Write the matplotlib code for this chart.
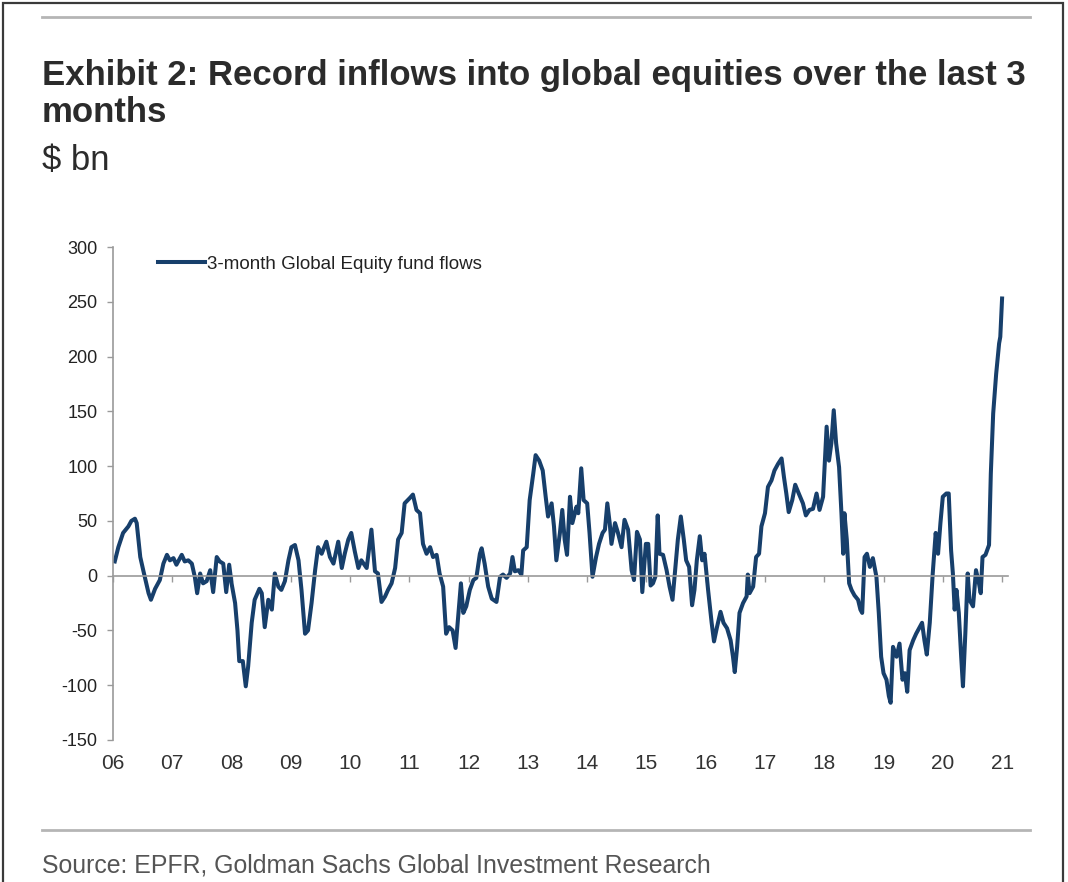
"""
Exhibit 2: 3-month global equity fund flows ($ bn), 2006-2021.
Values read off the EPFR / GS chart, roughly 3 weeks apart.
"""

import matplotlib
matplotlib.use("Agg")
import matplotlib.pyplot as plt
from matplotlib.lines import Line2D
from matplotlib.patches import Rectangle

NARROW = ["Liberation Sans Narrow", "Liberation Sans", "DejaVu Sans"]
REGULAR = ["Liberation Sans", "DejaVu Sans"]

# decimal year of each reading
t_2006_09 = [2006.03, 2006.09, 2006.17, 2006.26, 2006.31, 2006.37, 2006.40, 2006.46, 2006.51, 2006.60,
             2006.64, 2006.71, 2006.79, 2006.85, 2006.91, 2006.96, 2007.02, 2007.07, 2007.16, 2007.21,
             2007.27, 2007.33, 2007.38, 2007.42, 2007.47, 2007.52, 2007.58, 2007.64, 2007.69, 2007.75,
             2007.80, 2007.86, 2007.91, 2007.96, 2008.00, 2008.06, 2008.10, 2008.13, 2008.19, 2008.24,
             2008.28, 2008.34, 2008.39, 2008.47, 2008.51, 2008.56, 2008.62, 2008.68, 2008.73, 2008.79,
             2008.84, 2008.90, 2008.96, 2009.01, 2009.07, 2009.13, 2009.18, 2009.24, 2009.29, 2009.35,
             2009.41, 2009.46, 2009.52, 2009.60, 2009.66]
v_2006_09 = [13, 26, 39, 45, 50, 52, 48, 17, 5, -16,
             -22, -12, -4, 11, 19, 14, 16, 10, 19, 13,
             14, 11, -1, -16, 2, -7, -5, 5, -15, 17,
             13, 11, -15, 10, -7, -25, -50, -78, -78, -101,
             -83, -43, -22, -12, -16, -47, -22, -31, 2, -10,
             -13, -5, 14, 26, 28, 14, -13, -53, -50, -25,
             5, 26, 20, 31, 17]

t_2009_13 = [2009.72, 2009.80, 2009.86, 2009.91, 2009.97, 2010.02, 2010.08, 2010.14, 2010.19, 2010.28,
             2010.36, 2010.42, 2010.47, 2010.53, 2010.59, 2010.64, 2010.70, 2010.76, 2010.81, 2010.87,
             2010.92, 2011.01, 2011.06, 2011.12, 2011.18, 2011.23, 2011.29, 2011.35, 2011.40, 2011.46,
             2011.51, 2011.57, 2011.62, 2011.67, 2011.73, 2011.78, 2011.82, 2011.87, 2011.91, 2011.96,
             2012.02, 2012.08, 2012.13, 2012.19, 2012.22, 2012.27, 2012.33, 2012.39, 2012.47, 2012.53,
             2012.58, 2012.64, 2012.70, 2012.74, 2012.78, 2012.84, 2012.89, 2012.92, 2012.98, 2013.03,
             2013.09, 2013.13, 2013.19, 2013.25, 2013.30, 2013.34, 2013.40, 2013.44, 2013.48, 2013.54,
             2013.58, 2013.62, 2013.66, 2013.71, 2013.75, 2013.82]
v_2009_13 = [11, 31, 7, 20, 33, 39, 22, 7, 14, 7,
             42, 4, 2, -24, -19, -13, -7, 7, 33, 39,
             66, 71, 74, 60, 57, 29, 20, 26, 17, 19,
             2, -10, -53, -47, -50, -66, -40, -7, -34, -28,
             -13, -4, -2, 20, 25, 11, -10, -21, -24, -1,
             1, -2, 2, 17, 4, 5, 1, 23, 26, 69,
             93, 110, 105, 96, 72, 54, 66, 45, 14, 39,
             60, 33, 19, 72, 48, 63]

t_2013_17 = [2013.85, 2013.90, 2013.94, 2014.00, 2014.04, 2014.09, 2014.15, 2014.20, 2014.26, 2014.30,
             2014.34, 2014.38, 2014.41, 2014.47, 2014.52, 2014.58, 2014.63, 2014.69, 2014.75, 2014.79,
             2014.84, 2014.89, 2014.93, 2014.99, 2015.03, 2015.07, 2015.11, 2015.15, 2015.19, 2015.22,
             2015.28, 2015.34, 2015.39, 2015.44, 2015.48, 2015.53, 2015.58, 2015.63, 2015.67, 2015.72,
             2015.77, 2015.81, 2015.85, 2015.90, 2015.94, 2015.98, 2016.04, 2016.10, 2016.14, 2016.19,
             2016.25, 2016.30, 2016.36, 2016.42, 2016.46, 2016.49, 2016.53, 2016.57, 2016.63, 2016.69,
             2016.71, 2016.74, 2016.80, 2016.85, 2016.90, 2016.94, 2017.00, 2017.05, 2017.11, 2017.16,
             2017.22, 2017.28, 2017.32, 2017.36, 2017.40, 2017.46, 2017.51, 2017.57, 2017.64, 2017.69]
v_2013_17 = [57, 98, 69, 66, 39, -1, 17, 29, 39, 42,
             66, 48, 29, 48, 39, 26, 51, 42, 5, -4,
             40, 33, -15, 29, 29, -9, -7, -1, 55, 20,
             19, 5, -10, -22, 2, 33, 54, 33, 14, 8,
             -27, -13, 14, 36, 14, 20, -13, -43, -60, -47,
             -33, -43, -48, -59, -74, -88, -65, -34, -25, -19,
             1, -16, -10, 17, 20, 45, 57, 81, 87, 96,
             102, 107, 90, 75, 58, 69, 83, 75, 66, 55]

t_2017_21 = [2017.75, 2017.81, 2017.87, 2017.92, 2017.98, 2018.04, 2018.08, 2018.12, 2018.16, 2018.20,
             2018.25, 2018.29, 2018.32, 2018.34, 2018.38, 2018.42, 2018.46, 2018.51, 2018.57, 2018.61,
             2018.64, 2018.68, 2018.72, 2018.77, 2018.82, 2018.88, 2018.92, 2018.96, 2019.00, 2019.05,
             2019.09, 2019.12, 2019.16, 2019.22, 2019.27, 2019.32, 2019.36, 2019.40, 2019.44, 2019.50,
             2019.55, 2019.61, 2019.65, 2019.69, 2019.73, 2019.78, 2019.83, 2019.88, 2019.92, 2019.96,
             2020.00, 2020.06, 2020.10, 2020.14, 2020.17, 2020.20, 2020.23, 2020.27, 2020.31, 2020.34,
             2020.38, 2020.42, 2020.45, 2020.51, 2020.56, 2020.61, 2020.64, 2020.67, 2020.72, 2020.78,
             2020.81, 2020.85, 2020.90, 2020.95, 2020.97, 2021.00]
v_2017_21 = [60, 61, 75, 60, 72, 136, 105, 121, 151, 121,
             99, 57, 20, 57, 33, -7, -13, -18, -22, -31,
             -34, 17, 20, 8, 16, -1, -34, -74, -89, -95,
             -110, -116, -65, -74, -62, -95, -89, -106, -68, -59,
             -53, -47, -43, -59, -72, -43, 2, 39, 20, 48,
             72, 75, 75, 23, 2, -31, -13, -34, -74, -101,
             -53, 2, -22, -28, 5, -7, -16, 17, 19, 28,
             93, 148, 184, 212, 218, 253]

years = list(range(2006, 2022))
year_labels = [f"{y % 100:02d}" for y in years]
y_ticks = [-150, -100, -50, 0, 50, 100, 150, 200, 250, 300]

TITLE = "Exhibit 2: Record inflows into global equities over the last 3"
SOURCE = "Source: EPFR, Goldman Sachs Global Investment Research"
LINE_COLOR = "#173f6b"
GRID_GREY = "#9a9a9a"

W, H = 1068, 882


def fit_width(fig, txt, target_px):
    # shrink/grow a text so it spans target_px pixels
    r = fig.canvas.get_renderer()
    w = txt.get_window_extent(r).width
    txt.set_fontsize(txt.get_fontsize() * target_px / w)


def main():
    t = t_2006_09 + t_2009_13 + t_2013_17 + t_2017_21
    v = v_2006_09 + v_2009_13 + v_2013_17 + v_2017_21

    fig = plt.figure(figsize=(W / 100, H / 100), dpi=100)
    fig.patch.set_facecolor("white")

    ax = fig.add_axes([113 / W, 1 - 740 / H, (1008 - 113) / W, (740 - 247) / H])
    ax.plot(t, v, color=LINE_COLOR, lw=2.9, solid_joinstyle="round",
            label="3-month Global Equity fund flows")

    ax.set_xlim(2006, 2021.1)
    ax.set_ylim(-150, 300)
    ax.set_yticks(y_ticks)
    ax.set_yticklabels([str(y) for y in y_ticks], family=REGULAR, fontsize=13, color="#222222")
    ax.tick_params(axis="y", direction="out", length=4, width=1, color=GRID_GREY, pad=7)

    for s in ["top", "right"]:
        ax.spines[s].set_visible(False)
    ax.spines["left"].set_color(GRID_GREY)
    ax.spines["left"].set_linewidth(1.2)
    ax.spines["bottom"].set_position(("data", 0))
    ax.spines["bottom"].set_color(GRID_GREY)
    ax.spines["bottom"].set_linewidth(1.2)

    ax.set_xticks(years)
    ax.tick_params(axis="x", direction="out", length=4, width=1, color=GRID_GREY, labelbottom=False)

    # year labels sit below the plot, not on the zero line
    sec = ax.secondary_xaxis(0)
    sec.spines["bottom"].set_visible(False)
    sec.set_xticks(years)
    sec.set_xticklabels(year_labels, family=NARROW, fontsize=15, color="#333333")
    sec.tick_params(length=0, pad=10)

    leg = ax.legend(loc="center left", bbox_to_anchor=(0.050, 0.9655), frameon=False,
                    handlelength=2.5, handletextpad=0.15, borderpad=0, borderaxespad=0,
                    prop={"family": REGULAR, "size": 13.5})
    for txt in leg.get_texts():
        txt.set_color("#222222")

    title = fig.text(42 / W, 1 - 75 / H, TITLE, family=NARROW, weight="bold",
                     fontsize=24, color="#2b2b2b", va="center", ha="left")
    fig.text(42 / W, 1 - 113 / H, "months", family=NARROW, weight="bold",
             fontsize=24, color="#2b2b2b", va="center", ha="left")
    fig.text(42 / W, 1 - 160 / H, "$ bn", family=NARROW,
             fontsize=24, color="#2b2b2b", va="center", ha="left")
    source = fig.text(42 / W, 1 - 865 / H, SOURCE, family=NARROW,
                      fontsize=20, color="#555555", va="center", ha="left")

    fit_width(fig, title, 1030 - 42)
    fit_width(fig, source, 712 - 42)
    for other in fig.texts[1:3]:
        other.set_fontsize(title.get_fontsize())

    # rules above the title and above the source line
    for yy in (17, 830):
        fig.add_artist(Line2D([42 / W, 1030 / W], [1 - yy / H, 1 - yy / H],
                              transform=fig.transFigure, color="#b5b5b5", lw=2))

    # frame around the whole exhibit (open at the bottom, like the crop)
    fig.add_artist(Rectangle((3 / W, -0.02), (1063 - 3) / W, 1 - 3 / H + 0.02,
                             transform=fig.transFigure, fill=False, ec="#3a3a3a", lw=1.6))

    fig.savefig("out.png", dpi=100)


if __name__ == "__main__":
    main()
